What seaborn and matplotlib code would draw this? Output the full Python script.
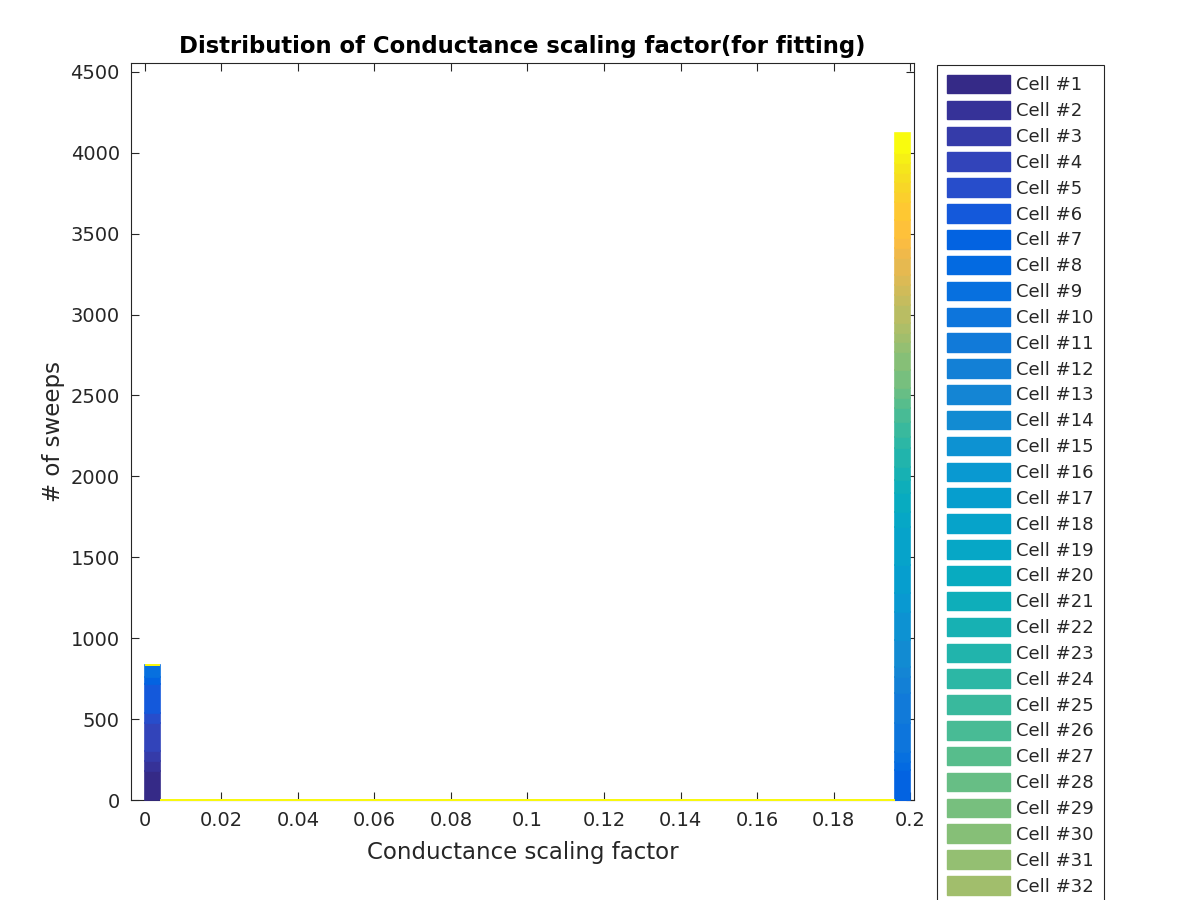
import numpy as np
import pandas as pd
import matplotlib
matplotlib.use("Agg")
import matplotlib.pyplot as plt
import matplotlib.patches as mpatches
import seaborn as sns

# ---------------- data ----------------
n_cells = 48
cells = [f"Cell #{i}" for i in range(1, n_cells + 1)]
bin_values = [0.002, 0.198]          # the two populated histogram bins
counts_low = [181, 57, 62, 176, 62, 179, 45, 0, 74] + [0] * 39          # bin at 0
counts_high = [0, 0, 0, 0, 0, 0,
               185, 49, 62, 179, 185, 99, 62, 167, 173, 117,
               173, 235, 93, 117, 80, 80, 117, 68, 93, 87,
               62, 62, 111, 111, 62, 56, 62, 111, 62, 62,
               62, 105, 62, 62, 111, 111, 62, 62, 56, 62,
               62, 124]                                                   # bin at 0.2
bin_edges = [round(0.004 * k, 3) for k in range(51)]
xticks = [0, 0.02, 0.04, 0.06, 0.08, 0.1, 0.12, 0.14, 0.16, 0.18, 0.2]
xticklabels = ["0", "0.02", "0.04", "0.06", "0.08", "0.1", "0.12", "0.14", "0.16", "0.18", "0.2"]
yticks = [0, 500, 1000, 1500, 2000, 2500, 3000, 3500, 4000, 4500]

# ---------------- parula colormap ----------------
PARULA = np.array([
[0.2081,0.1663,0.5292],[0.2116,0.1898,0.5777],[0.2123,0.2138,0.6270],[0.2081,0.2386,0.6771],
[0.1959,0.2645,0.7279],[0.1707,0.2919,0.7792],[0.1253,0.3242,0.8303],[0.0591,0.3598,0.8683],
[0.0117,0.3875,0.8820],[0.0060,0.4086,0.8828],[0.0165,0.4266,0.8786],[0.0329,0.4430,0.8720],
[0.0498,0.4586,0.8641],[0.0629,0.4737,0.8554],[0.0723,0.4887,0.8467],[0.0779,0.5040,0.8384],
[0.0793,0.5200,0.8312],[0.0749,0.5375,0.8263],[0.0641,0.5570,0.8240],[0.0488,0.5772,0.8228],
[0.0343,0.5966,0.8199],[0.0265,0.6137,0.8135],[0.0239,0.6287,0.8038],[0.0231,0.6418,0.7913],
[0.0228,0.6535,0.7768],[0.0267,0.6642,0.7607],[0.0384,0.6743,0.7436],[0.0590,0.6838,0.7254],
[0.0843,0.6928,0.7062],[0.1133,0.7015,0.6859],[0.1453,0.7098,0.6646],[0.1801,0.7177,0.6424],
[0.2178,0.7250,0.6193],[0.2586,0.7317,0.5954],[0.3022,0.7376,0.5712],[0.3482,0.7424,0.5473],
[0.3953,0.7459,0.5244],[0.4420,0.7481,0.5033],[0.4871,0.7491,0.4840],[0.5300,0.7491,0.4661],
[0.5709,0.7485,0.4494],[0.6099,0.7473,0.4337],[0.6473,0.7456,0.4188],[0.6834,0.7435,0.4044],
[0.7184,0.7411,0.3905],[0.7525,0.7384,0.3768],[0.7858,0.7356,0.3633],[0.8185,0.7327,0.3498],
[0.8507,0.7299,0.3360],[0.8824,0.7274,0.3217],[0.9139,0.7258,0.3063],[0.9450,0.7261,0.2886],
[0.9739,0.7314,0.2666],[0.9938,0.7455,0.2403],[0.9990,0.7653,0.2164],[0.9955,0.7861,0.1967],
[0.9880,0.8066,0.1794],[0.9789,0.8271,0.1633],[0.9697,0.8481,0.1475],[0.9626,0.8705,0.1309],
[0.9589,0.8949,0.1132],[0.9598,0.9218,0.0948],[0.9661,0.9514,0.0755],[0.9763,0.9831,0.0538]])
pos = np.linspace(0, 1, 64)
t = np.linspace(0, 1, n_cells)
colors = [tuple(float(np.interp(tt, pos, PARULA[:, k])) for k in range(3)) for tt in t]

# ---------------- dataframe ----------------
rows = []
for i, c in enumerate(cells):
    rows.append({"cell": c, "value": bin_values[0], "count": counts_low[i]})
    rows.append({"cell": c, "value": bin_values[1], "count": counts_high[i]})
df = pd.DataFrame(rows)

sns.set_theme(style="white")
plt.rcParams["font.family"] = ["DejaVu Sans"]

fig = plt.figure(figsize=(12, 9), dpi=100)
ax = fig.add_axes([131 / 1200, 1 - 800 / 900, (914 - 131) / 1200, (800 - 63) / 900])

# seaborn stacks first hue level on top; MATLAB stacks Cell #1 at the bottom
sns.histplot(data=df, x="value", weights="count", hue="cell",
             hue_order=cells[::-1], palette=colors[::-1],
             multiple="stack", bins=bin_edges, alpha=1, linewidth=0,
             legend=False, ax=ax)

carr = np.array(colors)
for p in ax.patches:
    fc = np.array(p.get_facecolor()[:3])
    idx = int(np.argmin(((carr - fc) ** 2).sum(axis=1)))
    p.set_edgecolor(colors[idx])
    p.set_linewidth(1.2)
    p.set_clip_on(False)
    p.set_zorder(6 + idx / 100.0)

ax.set_xlim(-0.0036, 0.201)
ax.set_ylim(0, 4555)
ax.set_xticks(xticks)
ax.set_xticklabels(xticklabels)
ax.set_yticks(yticks)
ax.tick_params(axis="both", which="both", direction="in", length=6, width=0.8,
               top=True, right=True, bottom=True, left=True,
               labelsize=14, colors="#262626", pad=8)
for s in ax.spines.values():
    s.set_visible(True)
    s.set_color("#262626")
    s.set_linewidth(0.8)
    s.set_zorder(5)

ax.set_xlabel("Conductance scaling factor", fontsize=16.5, color="#262626", labelpad=8)
ax.set_ylabel("# of sweeps", fontsize=16.5, color="#262626", labelpad=4)
ax.set_title("Distribution of Conductance scaling factor(for fitting)",
             fontsize=16.4, fontweight="bold", color="black", pad=7)

handles = [mpatches.Patch(facecolor=c, edgecolor=c) for c in colors]
leg = fig.legend(handles, cells, loc="upper left",
                 bbox_to_anchor=(937 / 1200, 1 - 65 / 900),
                 bbox_transform=fig.transFigure,
                 fontsize=13, frameon=True, fancybox=False, shadow=False,
                 handlelength=3.5, handleheight=1.2, handletextpad=0.35,
                 labelspacing=0.36, borderpad=0.55, borderaxespad=0)
leg.get_frame().set_edgecolor("#262626")
leg.get_frame().set_linewidth(0.8)
leg.get_frame().set_alpha(1)

fig.savefig("out.png", dpi=100)
